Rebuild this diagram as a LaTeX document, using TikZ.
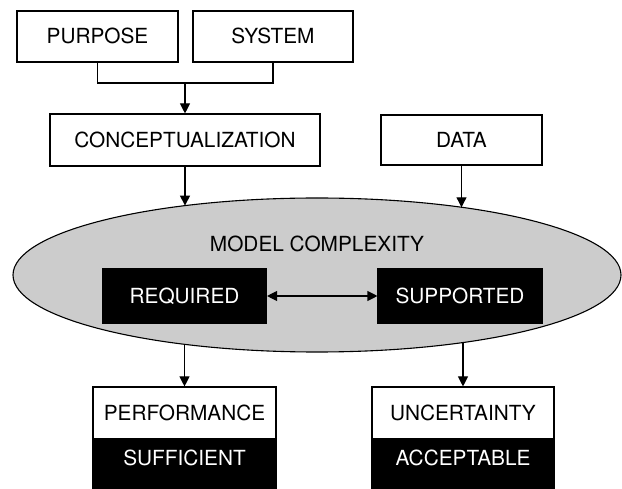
\documentclass[tikz,border=0pt]{standalone}
\usepackage{fontspec}
\setmainfont{TeX Gyre Heros}
\usetikzlibrary{arrows.meta,shapes.geometric}
\begin{document}
\begin{tikzpicture}[x=1pt,y=-1pt,
  font=\fontsize{20.8}{24}\selectfont,
  line width=1.1pt,
  wbox/.style={draw=black,fill=white,rectangle,inner sep=0pt,text height=14.9pt,text depth=0pt},
  bbox/.style={draw=black,fill=black,text=white,rectangle,inner sep=0pt,text height=14.9pt,text depth=0pt},
  arr/.style={-{Triangle[length=10pt,width=10pt]}},
  darr/.style={{Triangle[length=10pt,width=10pt]}-{Triangle[length=10pt,width=10pt]}}]
\useasboundingbox (0,0) rectangle (622,489);
% top boxes
\node[wbox,minimum width=161pt,minimum height=51pt] (purpose) at (97.5,36.5) {PURPOSE};
\node[wbox,minimum width=160pt,minimum height=51pt] (system) at (273,36.5) {SYSTEM};
\node[wbox,minimum width=270pt,minimum height=52pt] (concept) at (185,140) {CONCEPTUALIZATION};
\node[wbox,minimum width=161pt,minimum height=50pt] (data) at (461.5,140) {DATA};
% ellipse
\node[ellipse,draw=black,fill=black!20,inner sep=0pt,minimum width=608pt,minimum height=154pt] (ell) at (317,275) {};
\node (mc) at (317,244) {MODEL COMPLEXITY};
\node[bbox,minimum width=164pt,minimum height=54pt] (req) at (184.5,296) {REQUIRED};
\node[bbox,minimum width=164pt,minimum height=54pt] (sup) at (460,296) {SUPPORTED};
% bottom boxes
\node[wbox,minimum width=183pt,minimum height=52pt] (perf) at (184.5,413) {PERFORMANCE};
\node[bbox,anchor=north,minimum width=183pt,minimum height=50pt,text depth=15pt] (suff) at (perf.south) {SUFFICIENT};
\node[wbox,minimum width=182pt,minimum height=52pt] (unc) at (463,413) {UNCERTAINTY};
\node[bbox,anchor=north,minimum width=182pt,minimum height=50pt,text depth=15pt] (acc) at (unc.south) {ACCEPTABLE};
% coordinates
\coordinate (join) at (185,83);
\coordinate (etl) at (185,205.6);
\coordinate (etr) at (461.5,207.3);
\coordinate (ebl) at (184.5,344.4);
\coordinate (ebr) at (463,342.5);
% connectors
\draw (purpose.south) |- (join) -| (system.south);
\draw[arr] (join) -- (concept.north);
\draw[arr] (concept.south) -- (etl);
\draw[arr] (data.south) -- (etr);
\draw[darr] (req.east) -- (sup.west);
\draw[arr] (ebl) -- (perf.north);
\draw[arr] (ebr) -- (unc.north);
\end{tikzpicture}
\end{document}
